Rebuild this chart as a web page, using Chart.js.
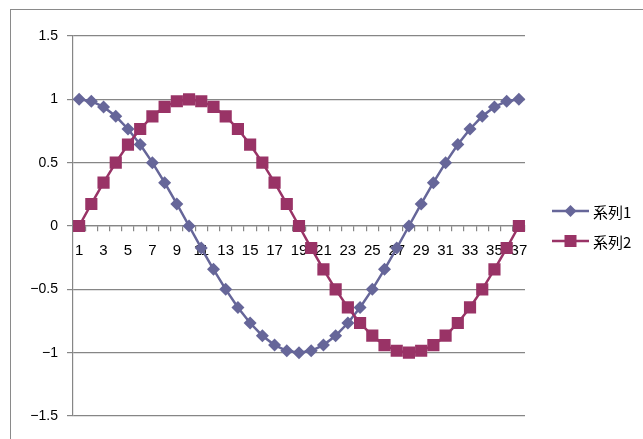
<!DOCTYPE html>
<html>
<head>
<meta charset="utf-8">
<script src="https://cdn.jsdelivr.net/npm/chart.js@4.4.0/dist/chart.umd.min.js"></script>
<style>
  html, body { margin: 0; padding: 0; background: #fff; overflow: hidden; }
  #wrap { position: relative; width: 643px; height: 439px; }
  #frame { position: absolute; left: 10px; top: 9px; width: 700px; height: 500px; border: 1.5px solid #8a8a8a; box-sizing: border-box; }
  canvas#c { position: absolute; left: 0; top: 0; }
  .leg { position: absolute; left: 552px; height: 20px; display: flex; align-items: center;
         font-family: "Noto Sans CJK JP", sans-serif; font-size: 15px; color: #000; }
  .leg canvas { margin-right: 4px; }
</style>
</head>
<body>
<div id="wrap">
  <div id="frame"></div>
  <canvas id="c" width="643" height="439"></canvas>
  <div class="leg" style="top:201px"><canvas id="l1" width="37" height="20"></canvas><span>系列1</span></div>
  <div class="leg" style="top:231px"><canvas id="l2" width="37" height="20"></canvas><span>系列2</span></div>
</div>
<script>
const categories = ["1","2","3","4","5","6","7","8","9","10","11","12","13","14","15","16","17","18","19","20","21","22","23","24","25","26","27","28","29","30","31","32","33","34","35","36","37"];
const series1Name = "系列1";
const series2Name = "系列2";
const series1 = [1, 0.985, 0.94, 0.866, 0.766, 0.643, 0.5, 0.342, 0.174, 0, -0.174, -0.342, -0.5, -0.643, -0.766, -0.866, -0.94, -0.985, -1, -0.985, -0.94, -0.866, -0.766, -0.643, -0.5, -0.342, -0.174, 0, 0.174, 0.342, 0.5, 0.643, 0.766, 0.866, 0.94, 0.985, 1];
const series2 = [0, 0.174, 0.342, 0.5, 0.643, 0.766, 0.866, 0.94, 0.985, 1, 0.985, 0.94, 0.866, 0.766, 0.643, 0.5, 0.342, 0.174, 0, -0.174, -0.342, -0.5, -0.643, -0.766, -0.866, -0.94, -0.985, -1, -0.985, -0.94, -0.866, -0.766, -0.643, -0.5, -0.342, -0.174, 0];
const yMin = -1.5, yMax = 1.5, yStep = 0.5;

const c1 = '#666699', c2 = '#993366';
const gridColor = '#868686';

new Chart(document.getElementById('c'), {
  type: 'line',
  data: {
    labels: categories,
    datasets: [
      { label: series1Name, data: series1, borderColor: c1, backgroundColor: c1, borderWidth: 2.5,
        pointStyle: 'rectRot', pointRadius: 6.5, pointBorderWidth: 0, pointBackgroundColor: c1, tension: 0, order: 1 },
      { label: series2Name, data: series2, borderColor: c2, backgroundColor: c2, borderWidth: 2.5,
        pointStyle: 'rect', pointRadius: 8.6, pointBorderWidth: 0, pointBackgroundColor: c2, tension: 0, order: 0 }
    ]
  },
  options: {
    responsive: false,
    animation: false,
    devicePixelRatio: 1,
    layout: { padding: { top: 36, bottom: 23, right: 118, left: 0 } },
    plugins: { legend: { display: false }, tooltip: { enabled: false } },
    scales: {
      y: {
        min: yMin, max: yMax,
        afterFit: s => { s.width = 73; },
        ticks: { stepSize: yStep, padding: 9, color: '#000',
          font: { family: 'Liberation Sans', size: 14 },
          callback: v => (v < 0 ? '\u2212' : '') + Math.abs(v) },
        grid: { color: gridColor, lineWidth: 1.2, tickLength: 6 },
        border: { display: true, color: gridColor, width: 1.2 }
      },
      x: {
        position: { y: 0 },
        offset: true,
        ticks: { autoSkip: false, maxRotation: 0, minRotation: 0, padding: 11, color: '#000',
          font: { family: 'Liberation Sans', size: 15 },
          callback: function(v, i) { return i % 2 === 0 ? this.getLabelForValue(v) : ''; } },
        grid: { drawOnChartArea: false, drawTicks: true, tickLength: 5, color: gridColor, lineWidth: 1.2, offset: true },
        border: { display: true, color: gridColor, width: 1.2 }
      }
    }
  }
});

function legendIcon(id, color, style) {
  const ctx = document.getElementById(id).getContext('2d');
  ctx.strokeStyle = color; ctx.lineWidth = 2.5;
  ctx.beginPath(); ctx.moveTo(0, 10); ctx.lineTo(37, 10); ctx.stroke();
  ctx.fillStyle = color;
  if (style === 'diamond') {
    ctx.beginPath(); ctx.moveTo(18.5, 4); ctx.lineTo(24.5, 10); ctx.lineTo(18.5, 16); ctx.lineTo(12.5, 10); ctx.closePath(); ctx.fill();
  } else {
    ctx.fillRect(12.5, 4, 12, 12);
  }
}
legendIcon('l1', c1, 'diamond');
legendIcon('l2', c2, 'square');
</script>
</body>
</html>
